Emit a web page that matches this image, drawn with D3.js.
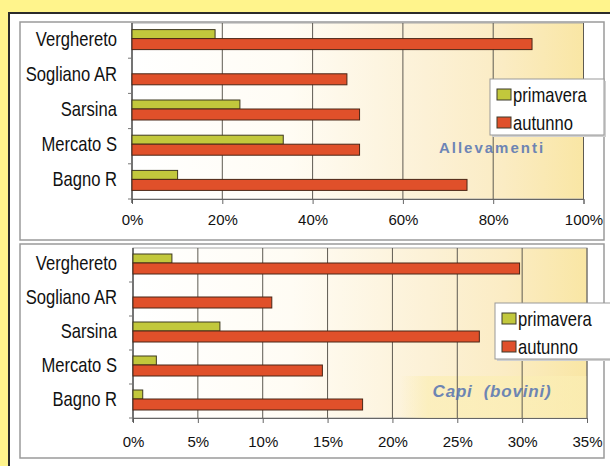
<!DOCTYPE html>
<html>
<head>
<meta charset="utf-8">
<script src="https://cdn.jsdelivr.net/npm/d3@7"></script>
<style>
  body { margin: 0; background: #fff48c; }
  svg { display: block; }
  .cat, .leg { font-family: "Liberation Sans", Arial, sans-serif; font-size: 20px; fill: #111; }
  .tick text { font-family: "Liberation Sans", Arial, sans-serif; font-size: 15px; fill: #111; }
  .title { font-family: "Liberation Sans", Arial, sans-serif; font-weight: bold; fill: #5573b2; white-space: pre; }
</style>
</head>
<body>
<svg id="chart" width="610" height="466"></svg>
<script>
'use strict';

const categories = ["Verghereto", "Sogliano AR", "Sarsina", "Mercato S", "Bagno R"];
const seriesNames = ["primavera", "autunno"];

// allevamenti (%)
const allevPrimavera = [18.4, 0, 23.9, 33.5, 10.1];
const allevAutunno = [88.6, 47.6, 50.4, 50.4, 74.2];
const allevTicks = [0, 20, 40, 60, 80, 100];

// capi bovini (%)
const capiPrimavera = [3.0, 0, 6.7, 1.8, 0.75];
const capiAutunno = [29.8, 10.7, 26.7, 14.6, 17.7];
const capiTicks = [0, 5, 10, 15, 20, 25, 30, 35];

const colors = {"primavera": "#c2c83c", "autunno": "#e0502a"};
const narrow = 0.83; // no narrow font installed, squeeze Liberation Sans

let svg = d3.select("#chart");

// outer panel
svg.append("rect").attr("x", 9).attr("y", 13).attr("width", 620).attr("height", 470)
  .attr("fill", "#fff").attr("stroke", "#2b2b2b").attr("stroke-width", 2);

let defs = svg.append("defs");
let grad = defs.append("linearGradient").attr("id", "bg").attr("x1", "0").attr("x2", "1").attr("y1", "0").attr("y2", "0");
grad.append("stop").attr("offset", "0%").attr("stop-color", "#ffffff");
grad.append("stop").attr("offset", "35%").attr("stop-color", "#fffcf4");
grad.append("stop").attr("offset", "65%").attr("stop-color", "#fcf1d6");
grad.append("stop").attr("offset", "82%").attr("stop-color", "#fbecc4");
grad.append("stop").attr("offset", "100%").attr("stop-color", "#f9e6a4");

let bandGrad = defs.append("linearGradient").attr("id", "band").attr("x1", "0").attr("x2", "1").attr("y1", "0").attr("y2", "0");
bandGrad.append("stop").attr("offset", "0%").attr("stop-color", "#fbeeb4").attr("stop-opacity", 0);
bandGrad.append("stop").attr("offset", "15%").attr("stop-color", "#fbeeb4").attr("stop-opacity", 0.7);
bandGrad.append("stop").attr("offset", "100%").attr("stop-color", "#fbeeb4").attr("stop-opacity", 0.7);

function drawPanel(frame, plot, primavera, autunno, ticks, maxVal, title, legendPos) {
  // frame
  svg.append("rect").attr("x", frame.x).attr("y", frame.y).attr("width", frame.w).attr("height", frame.h)
    .attr("fill", "#fff").attr("stroke", "#9a9a9a").attr("stroke-width", 1.5);

  let x = d3.scaleLinear().domain([0, maxVal]).range([plot.left, plot.right]);
  let y = d3.scaleBand().domain(categories).range([plot.top, plot.bottom]);

  let g = svg.append("g");

  g.append("rect").attr("x", plot.left).attr("y", plot.top)
    .attr("width", plot.right - plot.left).attr("height", plot.bottom - plot.top)
    .attr("fill", "url(#bg)").attr("stroke", "#a8a8a8");

  if (title.band) {
    g.append("rect").attr("x", title.band.x).attr("y", title.band.y)
      .attr("width", plot.right - title.band.x).attr("height", plot.bottom - title.band.y)
      .attr("fill", "url(#band)");
  }

  // gridlines
  g.selectAll(".grid").data(ticks.slice(1)).enter().append("line")
    .attr("x1", d => x(d)).attr("x2", d => x(d))
    .attr("y1", plot.top).attr("y2", plot.bottom)
    .attr("stroke", "#5e5a52").attr("stroke-width", 1);

  // axes
  g.append("g").attr("transform", "translate(0," + plot.bottom + ")")
    .call(d3.axisBottom(x).tickValues(ticks).tickSize(5).tickPadding(plot.pad).tickFormat(d => d + "%"))
    .call(a => a.select(".domain").attr("stroke", "#666"))
    .call(a => a.selectAll(".tick line").attr("stroke", "#666"));

  let yAxis = g.append("g").attr("transform", "translate(" + plot.left + ",0)");
  yAxis.append("line").attr("x1", 0).attr("x2", 0).attr("y1", plot.top).attr("y2", plot.bottom + 4)
    .attr("stroke", "#555").attr("stroke-width", 1.5);
  yAxis.selectAll(".ytick").data(categories).enter().append("line")
    .attr("x1", -4).attr("x2", 0)
    .attr("y1", d => y(d) + y.bandwidth()).attr("y2", d => y(d) + y.bandwidth())
    .attr("stroke", "#777");

  g.selectAll(".cat").data(categories).enter().append("text")
    .attr("class", "cat")
    .attr("transform", d => "translate(117," + (y(d) + y.bandwidth() / 2 - 2) + ") scale(" + narrow + ",1)")
    .attr("dy", "0.35em")
    .attr("text-anchor", "end")
    .text(d => d);

  // bars
  let c = d => y(d) + y.bandwidth() / 2;
  g.selectAll(".barP").data(categories).enter().append("rect")
    .attr("x", x(0))
    .attr("y", d => c(d) - 11)
    .attr("width", (d, i) => x(primavera[i]) - x(0))
    .attr("height", 9)
    .attr("fill", colors.primavera).attr("stroke", "#3f3a20").attr("stroke-width", 1)
    .style("display", (d, i) => primavera[i] > 0 ? null : "none");
  g.selectAll(".barA").data(categories).enter().append("rect")
    .attr("x", x(0))
    .attr("y", d => c(d) - 2)
    .attr("width", (d, i) => x(autunno[i]) - x(0))
    .attr("height", 11)
    .attr("fill", colors.autunno).attr("stroke", "#4a2616").attr("stroke-width", 1);

  // title
  g.append("text").attr("class", "title")
    .attr("x", title.x).attr("y", title.y).attr("dy", "0.35em")
    .attr("text-anchor", "middle")
    .style("font-size", title.size + "px")
    .style("font-style", title.italic ? "italic" : "normal")
    .style("letter-spacing", title.spacing + "px")
    .attr("opacity", 0.85)
    .text(title.text);

  // legend
  let lg = svg.append("g").attr("transform", "translate(" + legendPos.x + "," + legendPos.y + ")");
  lg.append("rect").attr("x", 2).attr("y", 2).attr("width", legendPos.w).attr("height", legendPos.h)
    .attr("fill", "#cfcfcf");
  lg.append("rect").attr("width", legendPos.w).attr("height", legendPos.h)
    .attr("fill", "#fff").attr("stroke", "#999");
  seriesNames.forEach(function(s, i) {
    lg.append("rect").attr("x", 7).attr("y", 10 + i * 28).attr("width", 14).attr("height", 11)
      .attr("fill", colors[s]).attr("stroke", "#3c3a2a");
    lg.append("text").attr("class", "leg")
      .attr("transform", "translate(23," + (16 + i * 28) + ") scale(" + narrow + ",1)")
      .attr("dy", "0.35em").text(s);
  });
}

drawPanel({x: 20, y: 22, w: 584, h: 218},
  {left: 132, right: 583.5, top: 23, bottom: 199, pad: 10},
  allevPrimavera, allevAutunno, allevTicks, 100,
  {text: "Allevamenti", x: 492, y: 148, size: 15, italic: false, spacing: 2},
  {x: 490, y: 79, w: 114, h: 56});

drawPanel({x: 20, y: 244, w: 584, h: 214},
  {left: 133, right: 587, top: 248, bottom: 418, pad: 13},
  capiPrimavera, capiAutunno, capiTicks, 35,
  {text: "Capi  (bovini)", x: 492, y: 391, size: 17, italic: true, spacing: 0.8, band: {x: 400, y: 376}},
  {x: 495, y: 303, w: 120, h: 56});
</script>
</body>
</html>
